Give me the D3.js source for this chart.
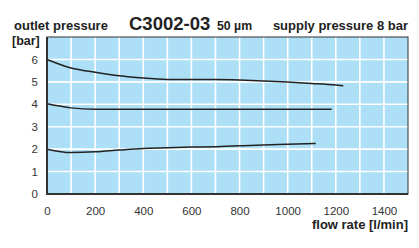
<!DOCTYPE html>
<html>
<head>
<meta charset="utf-8">
<script src="https://cdn.jsdelivr.net/npm/d3@7"></script>
<style>
  html, body { margin: 0; padding: 0; background: #fff; }
  svg { display: block; }
  text { font-family: "Liberation Sans", Arial, Helvetica, sans-serif; }
</style>
</head>
<body>
<svg id="chart" width="419" height="248"></svg>
<script>
// ---- data ----
const flowTicks = [0, 200, 400, 600, 800, 1000, 1200, 1400];
const pressureTicks = [0, 1, 2, 3, 4, 5, 6];
const curveHighFlow = [0, 100, 200, 300, 400, 500, 600, 700, 800, 900, 1000, 1100, 1200, 1231];
const curveHighP    = [6.0, 5.62, 5.43, 5.27, 5.17, 5.11, 5.10, 5.10, 5.08, 5.04, 4.99, 4.93, 4.86, 4.83];
const curveMidFlow  = [0, 100, 200, 300, 400, 600, 800, 1000, 1183];
const curveMidP     = [4.02, 3.84, 3.78, 3.78, 3.78, 3.78, 3.78, 3.78, 3.78];
const curveLowFlow  = [0, 100, 200, 300, 400, 500, 600, 700, 800, 900, 1000, 1117];
const curveLowP     = [2.0, 1.85, 1.88, 1.96, 2.03, 2.06, 2.09, 2.11, 2.15, 2.19, 2.22, 2.25];

(function () {
const svg = d3.select("#chart");
const mLeft = 47, mRight = 408, mTop = 37, mBottom = 194;
const x = d3.scaleLinear().domain([0, 1500]).range([mLeft, mRight]);
const y = d3.scaleLinear().domain([0, 7]).range([mBottom, mTop]);

// background
svg.append("rect").attr("x", mLeft).attr("y", mTop)
  .attr("width", mRight - mLeft).attr("height", mBottom - mTop)
  .attr("fill", "#addff6");

// grid
const g = svg.append("g");
g.selectAll("line.v").data(d3.range(100, 1500, 100)).join("line")
  .attr("x1", d => x(d)).attr("x2", d => x(d))
  .attr("y1", mTop).attr("y2", mBottom)
  .attr("stroke", "#fff").attr("stroke-width", 1.6);
g.selectAll("line.h").data(d3.range(1, 7, 1)).join("line")
  .attr("x1", mLeft).attr("x2", mRight)
  .attr("y1", d => y(d)).attr("y2", d => y(d))
  .attr("stroke", "#fff").attr("stroke-width", 1.6);

// frame
svg.append("rect").attr("x", mLeft).attr("y", mTop)
  .attr("width", mRight - mLeft).attr("height", mBottom - mTop)
  .attr("fill", "none").attr("stroke", "#333").attr("stroke-width", 1);
svg.append("line").attr("x1", mLeft).attr("x2", mLeft).attr("y1", mTop).attr("y2", mBottom + 1)
  .attr("stroke", "#333").attr("stroke-width", 2);
svg.append("line").attr("x1", mLeft - 1).attr("x2", mRight).attr("y1", mBottom).attr("y2", mBottom)
  .attr("stroke", "#333").attr("stroke-width", 2);

// axes (labels only)
const xAxis = d3.axisBottom(x).tickValues(flowTicks).tickFormat(d3.format("d"))
  .tickSize(0).tickPadding(13);
const xg = svg.append("g").attr("transform", `translate(0,${mBottom})`).call(xAxis);
xg.select(".domain").remove();
xg.selectAll("text").attr("font-size", 11.5).attr("fill", "#333")
  .attr("font-family", "Liberation Sans, Arial, sans-serif");

const yAxis = d3.axisLeft(y).tickValues(pressureTicks).tickFormat(d3.format("d"))
  .tickSize(0).tickPadding(9);
const yg = svg.append("g").attr("transform", `translate(${mLeft},0)`).call(yAxis);
yg.select(".domain").remove();
yg.selectAll("text").attr("font-size", 11.5).attr("fill", "#333")
  .attr("font-family", "Liberation Sans, Arial, sans-serif");

// curves
const line = d3.line().x(d => x(d[0])).y(d => y(d[1])).curve(d3.curveMonotoneX);
[[curveHighFlow, curveHighP], [curveMidFlow, curveMidP], [curveLowFlow, curveLowP]].forEach(([fx, py]) => {
  svg.append("path").datum(fx.map((f, i) => [f, py[i]]))
    .attr("d", line).attr("fill", "none")
    .attr("stroke", "#222").attr("stroke-width", 1.5);
});

// texts
svg.append("text").attr("x", 14).attr("y", 30).attr("font-size", 13).attr("font-weight", "bold")
  .attr("fill", "#222").text("outlet pressure");
svg.append("text").attr("x", 12).attr("y", 44.5).attr("font-size", 12.5).attr("font-weight", "bold")
  .attr("fill", "#222").text("[bar]");
svg.append("text").attr("x", 129).attr("y", 30).attr("font-size", 18.5).attr("font-weight", "bold")
  .attr("fill", "#222").text("C3002-03");
svg.append("text").attr("x", 217).attr("y", 30).attr("font-size", 12.3).attr("font-weight", "bold")
  .attr("fill", "#222").text("50 µm");
svg.append("text").attr("x", 408).attr("y", 30).attr("text-anchor", "end").attr("font-size", 13)
  .attr("font-weight", "bold").attr("fill", "#222").text("supply pressure 8 bar");
svg.append("text").attr("x", 408).attr("y", 229).attr("text-anchor", "end").attr("font-size", 13)
  .attr("font-weight", "bold").attr("fill", "#222").text("flow rate [l/min]");
})();
</script>
</body>
</html>
